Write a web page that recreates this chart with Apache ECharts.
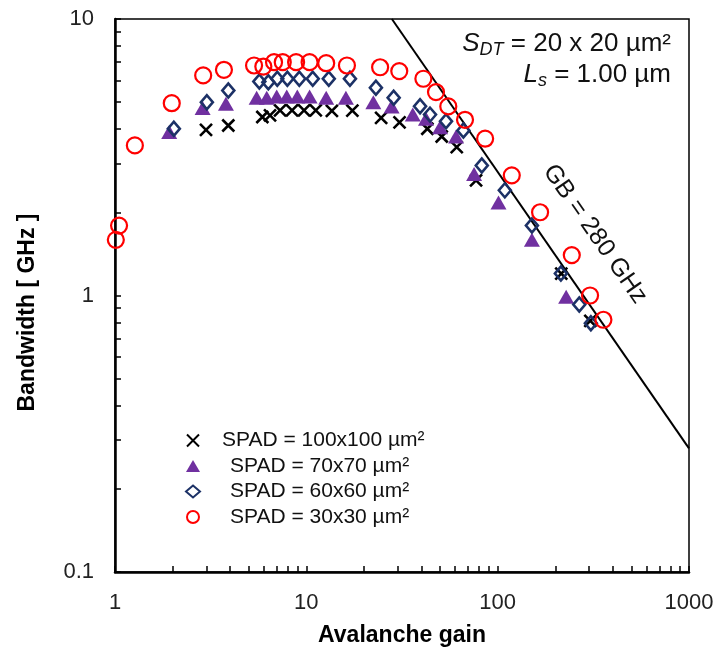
<!DOCTYPE html>
<html>
<head>
<meta charset="utf-8">
<script src="https://cdn.jsdelivr.net/npm/echarts@6/dist/echarts.min.js"></script>
<style>html,body{margin:0;padding:0;background:#fff;}#c{width:717px;height:655px;}</style>
</head>
<body>
<div id="c"></div>
<script>
// ---- data ----
const names = ['SPAD = 100x100 µm²', 'SPAD = 70x70 µm²', 'SPAD = 60x60 µm²', 'SPAD = 30x30 µm²'];

const gain100 = [2.99, 3.91, 5.89, 6.46, 7.29, 8.42, 9.73, 11.2, 13.6, 17.4, 24.6, 30.7, 42.9, 51.0, 61.1, 77.1, 215, 305];
const bw100   = [3.97, 4.12, 4.42, 4.48, 4.67, 4.67, 4.67, 4.67, 4.65, 4.66, 4.39, 4.23, 4.01, 3.76, 3.44, 2.61, 1.20, 0.81];

const gain70 = [1.92, 2.87, 3.80, 5.50, 6.21, 7.00, 7.90, 8.97, 10.4, 12.7, 16.1, 22.4, 27.9, 36.0, 42.2, 50.0, 60.6, 75.3, 101, 151, 228];
const bw70   = [3.90, 4.77, 4.94, 5.19, 5.19, 5.25, 5.25, 5.25, 5.25, 5.19, 5.19, 5.00, 4.83, 4.51, 4.36, 4.06, 3.76, 2.75, 2.17, 1.59, 0.99];

const gain60 = [2.03, 3.02, 3.91, 5.68, 6.33, 7.05, 7.96, 9.19, 10.8, 13.1, 16.9, 23.1, 28.6, 39.3, 44.3, 53.7, 66.2, 82.6, 109, 151, 214, 267, 307];
const bw60   = [4.01, 5.00, 5.51, 5.94, 5.91, 6.08, 6.08, 6.08, 6.08, 6.08, 6.08, 5.64, 5.19, 4.84, 4.51, 4.27, 3.95, 2.95, 2.40, 1.79, 1.20, 0.928, 0.794];

const gain30 = [1.01, 1.05, 1.27, 1.98, 2.89, 3.71, 5.33, 5.96, 6.78, 7.53, 8.84, 10.4, 12.7, 16.3, 24.3, 30.6, 40.9, 47.6, 55.2, 67.5, 86.0, 118.5, 166.6, 244, 304, 357];
const bw30   = [1.59, 1.79, 3.49, 4.96, 6.25, 6.55, 6.79, 6.73, 6.98, 6.98, 6.98, 6.98, 6.92, 6.79, 6.69, 6.48, 6.08, 5.44, 4.83, 4.32, 3.69, 2.72, 2.00, 1.40, 1.00, 0.817];

// gain-bandwidth line GB = 280 GHz (end points)
const gbX = [28, 1000];
const gbY = [10, 0.28];

const xMajor = [1, 10, 100, 1000];
const yMajor = [0.1, 1, 10];

// tick values (majors plus 2..9 per decade)
function decadeTicks(lo, hi) {
  const out = [];
  for (let d = lo; d < hi; d *= 10) for (let k = 1; k < 10; k++) out.push(+(d * k).toPrecision(3));
  out.push(hi);
  return out;
}
const xTicks = decadeTicks(1, 1000);
const yTicks = decadeTicks(0.1, 10);

const zip = (a, b) => a.map((v, i) => [v, b[i]]);
const FONT = '"Liberation Sans", Arial, sans-serif';
const clear = 'rgba(0,0,0,0)';

const chart = echarts.init(document.getElementById('c'), null, {renderer: 'canvas'});
chart.setOption({
  animation: false,
  backgroundColor: '#fff',
  grid: {left: 115, right: 28, top: 19, bottom: 83, show: true, borderColor: '#000', borderWidth: 1.5, containLabel: false, outerBoundsMode: 'none'},
  xAxis: {
    type: 'log', logBase: 10, min: 1, max: 1000,
    name: 'Avalanche gain', nameLocation: 'middle', nameGap: 52,
    nameTextStyle: {fontFamily: FONT, fontWeight: 'bold', fontSize: 23, color: '#000'},
    axisLine: {show: true, lineStyle: {color: '#000', width: 2.5}},
    axisTick: {show: true, inside: true, length: 6, lineStyle: {color: '#000', width: 1.5}, customValues: xTicks},
    axisLabel: {fontFamily: FONT, fontSize: 22, color: '#222', margin: 20, customValues: xMajor,
      formatter: v => String(v)},
    splitLine: {show: false}, minorTick: {show: false}
  },
  yAxis: {
    type: 'log', logBase: 10, min: 0.1, max: 10,
    name: 'Bandwidth [ GHz ]', nameLocation: 'middle', nameGap: 76,
    nameTextStyle: {fontFamily: FONT, fontWeight: 'bold', fontSize: 23, color: '#000', padding: [0, 34, 0, 0]},
    axisLine: {show: true, lineStyle: {color: '#000', width: 2.5}},
    axisTick: {show: true, inside: true, length: 6, lineStyle: {color: '#000', width: 1.5}, customValues: yTicks},
    axisLabel: {fontFamily: FONT, fontSize: 22, color: '#222', margin: 21, customValues: yMajor,
      formatter: v => String(v)},
    splitLine: {show: false}, minorTick: {show: false}
  },
  legend: {
    orient: 'vertical', left: 180, top: 425, itemGap: 4.5, itemWidth: 14, itemHeight: 12,
    textStyle: {fontFamily: FONT, fontSize: 21, color: '#111', lineHeight: 21},
    data: [
      {name: names[0], textStyle: {padding: [0, 0, 0, 17]}},
      {name: names[1], textStyle: {padding: [0, 0, 0, 25]}},
      {name: names[2], textStyle: {padding: [0, 0, 0, 25]}},
      {name: names[3], textStyle: {padding: [0, 0, 0, 25]}}
    ]
  },
  series: [
    {type: 'line', name: 'GB', data: zip(gbX, gbY), showSymbol: false, symbol: 'none',
     lineStyle: {color: '#000', width: 2}, z: 1, silent: true, clip: true},
    {type: 'scatter', name: names[0], data: zip(gain100, bw100),
     symbol: 'path://M0,0L10,10M10,0L0,10', symbolSize: 12,
     itemStyle: {color: clear, borderColor: '#000', borderWidth: 2.6, opacity: 1}, z: 2},
    {type: 'scatter', name: names[1], data: zip(gain70, bw70),
     symbol: 'triangle', symbolSize: [16, 14],
     itemStyle: {color: '#7030a0', opacity: 1}, z: 3},
    {type: 'scatter', name: names[2], data: zip(gain60, bw60),
     symbol: 'diamond', symbolSize: [12, 14],
     itemStyle: {color: clear, borderColor: '#1c3166', borderWidth: 2.6, opacity: 1}, z: 4},
    {type: 'scatter', name: names[3], data: zip(gain30, bw30),
     symbol: 'circle', symbolSize: 16,
     itemStyle: {color: clear, borderColor: '#ff0000', borderWidth: 2.2, opacity: 1}, z: 5}
  ],
  graphic: [
    {type: 'text', right: 46, top: 31, style: {
      text: '{i|S}{sub|DT}{n| = 20 x 20 µm²}', fill: '#111',
      rich: {
        i: {fontFamily: FONT, fontStyle: 'italic', fontSize: 26, fill: '#111'},
        sub: {fontFamily: FONT, fontStyle: 'italic', fontSize: 18, fill: '#111', verticalAlign: 'bottom', padding: [11, 0, 0, 0]},
        n: {fontFamily: FONT, fontSize: 26, fill: '#111'}
      }}},
    {type: 'text', right: 46, top: 62, style: {
      text: '{i|L}{sub|s}{n| = 1.00 µm}', fill: '#111',
      rich: {
        i: {fontFamily: FONT, fontStyle: 'italic', fontSize: 26, fill: '#111'},
        sub: {fontFamily: FONT, fontStyle: 'italic', fontSize: 18, fill: '#111', verticalAlign: 'bottom', padding: [11, 0, 0, 0]},
        n: {fontFamily: FONT, fontSize: 26, fill: '#111'}
      }}},
    {type: 'text', x: 595, y: 234, rotation: -55.2 * Math.PI / 180, style: {
      text: 'GB = 280 GHz', fontFamily: FONT, fontSize: 25, fill: '#111', align: 'center', verticalAlign: 'middle'}}
  ]
});
</script>
</body>
</html>
